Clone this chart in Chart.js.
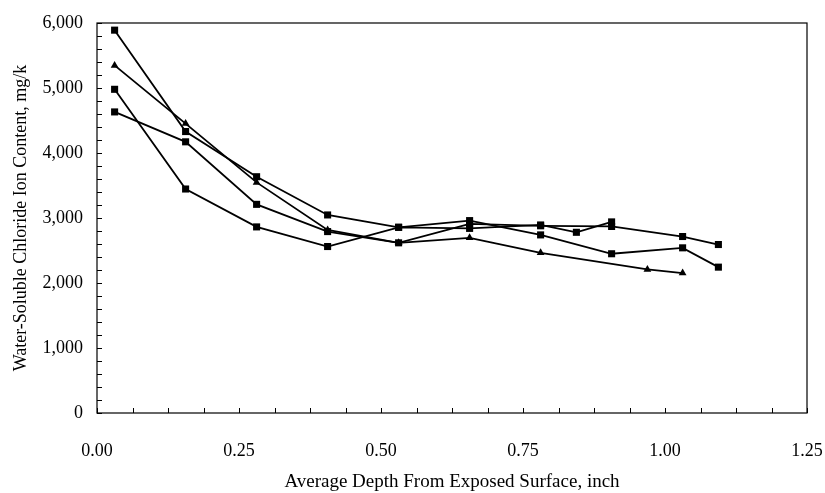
<!DOCTYPE html>
<html>
<head>
<meta charset="utf-8">
<script src="https://cdn.jsdelivr.net/npm/chart.js@4/dist/chart.umd.min.js"></script>
<style>
  html, body { margin: 0; padding: 0; background: #fff; }
  #wrap { width: 825px; height: 493px; }
</style>
</head>
<body>
<div id="wrap"><canvas id="chart" width="825" height="493"></canvas></div>
<script>
// depth (inch) and chloride (mg/k) per profile
const depthA = [0.031, 0.156, 0.281, 0.406, 0.531, 0.656, 0.781, 0.906, 1.031, 1.094];
const chlorA = [5890, 4330, 3635, 3047, 2857, 2960, 2740, 2450, 2541, 2244];

const depthB = [0.031, 0.156, 0.281, 0.406, 0.531, 0.656, 0.781, 0.969, 1.031];
const chlorB = [5348, 4452, 3548, 2817, 2618, 2695, 2465, 2209, 2153];

const depthC = [0.031, 0.156, 0.281, 0.406, 0.531, 0.656, 0.781, 0.844, 0.906];
const chlorC = [4980, 3446, 2863, 2561, 2857, 2840, 2893, 2780, 2940];

const depthD = [0.031, 0.156, 0.281, 0.406, 0.531, 0.656, 0.781, 0.906, 1.031, 1.094];
const chlorD = [4632, 4172, 3210, 2791, 2618, 2910, 2880, 2870, 2715, 2592];

const xTicks = [0, 0.25, 0.5, 0.75, 1.0, 1.25];
const yTicks = [0, 1000, 2000, 3000, 4000, 5000, 6000];
const xMinorStep = 0.0625;
const yMinorStep = 200;

const FONT = "'Liberation Serif', 'Times New Roman', serif";

function pts(xs, ys) {
  return xs.map((x, i) => ({ x, y: ys[i] }));
}

function series(xs, ys, marker) {
  return {
    data: pts(xs, ys),
    borderColor: '#000',
    backgroundColor: '#000',
    borderWidth: 1.8,
    pointStyle: marker,
    pointRadius: marker === 'triangle' ? 4.5 : 5,
    pointBorderWidth: 0,
    tension: 0,
    fill: false,
  };
}

// box around plot + inward minor ticks
const frame = {
  id: 'frame',
  afterDraw(chart) {
    const { ctx, chartArea: a, scales } = chart;
    ctx.save();
    ctx.strokeStyle = '#000';
    ctx.lineWidth = 1.2;
    ctx.strokeRect(a.left, a.top, a.right - a.left, a.bottom - a.top);
    ctx.lineWidth = 1;
    ctx.beginPath();
    for (let v = 0; v <= 6000 + 1e-6; v += yMinorStep) {
      const y = Math.round(scales.y.getPixelForValue(v)) + 0.5;
      ctx.moveTo(a.left, y);
      ctx.lineTo(a.left + 5, y);
    }
    for (let v = 0; v <= 1.25 + 1e-6; v += xMinorStep) {
      const x = Math.round(scales.x.getPixelForValue(v)) + 0.5;
      ctx.moveTo(x, a.bottom);
      ctx.lineTo(x, a.bottom - 5);
    }
    ctx.stroke();
    ctx.restore();
  },
};

new Chart(document.getElementById('chart'), {
  type: 'line',
  data: {
    datasets: [
      series(depthA, chlorA, 'rect'),
      series(depthB, chlorB, 'triangle'),
      series(depthC, chlorC, 'rect'),
      series(depthD, chlorD, 'rect'),
    ],
  },
  options: {
    responsive: false,
    animation: false,
    layout: { padding: { left: 0, right: 18, top: 23, bottom: 0 } },
    plugins: { legend: { display: false }, tooltip: { enabled: false } },
    scales: {
      x: {
        type: 'linear',
        min: 0,
        max: 1.25,
        afterBuildTicks: (s) => { s.ticks = xTicks.map((v) => ({ value: v })); },
        afterFit: (s) => {
          s.height = 80;
          s.paddingLeft = 0;
          s.paddingRight = 0;
        },
        grid: { display: false, drawTicks: false },
        border: { display: false },
        ticks: {
          color: '#000',
          padding: 27,
          font: { family: FONT, size: 18 },
          maxRotation: 0,
          callback: (v) => Number(v).toFixed(2),
        },
        title: {
          display: true,
          text: 'Average Depth From Exposed Surface, inch',
          color: '#000',
          font: { family: FONT, size: 19 },
          padding: { top: 0, bottom: 0 },
        },
      },
      y: {
        type: 'linear',
        min: 0,
        max: 6000,
        afterBuildTicks: (s) => { s.ticks = yTicks.map((v) => ({ value: v })); },
        afterFit: (s) => {
          s.width = 97;
          s.paddingTop = 0;
          s.paddingBottom = 0;
        },
        grid: { display: false, drawTicks: false },
        border: { display: false },
        ticks: {
          color: '#000',
          padding: 14,
          font: { family: FONT, size: 18 },
          callback: (v) => Number(v).toLocaleString('en-US'),
        },
        title: {
          display: true,
          text: 'Water-Soluble Chloride Ion Content, mg/k',
          color: '#000',
          font: { family: FONT, size: 18 },
          padding: { top: 10, bottom: 0 },
        },
      },
    },
  },
  plugins: [frame],
});
</script>
</body>
</html>
